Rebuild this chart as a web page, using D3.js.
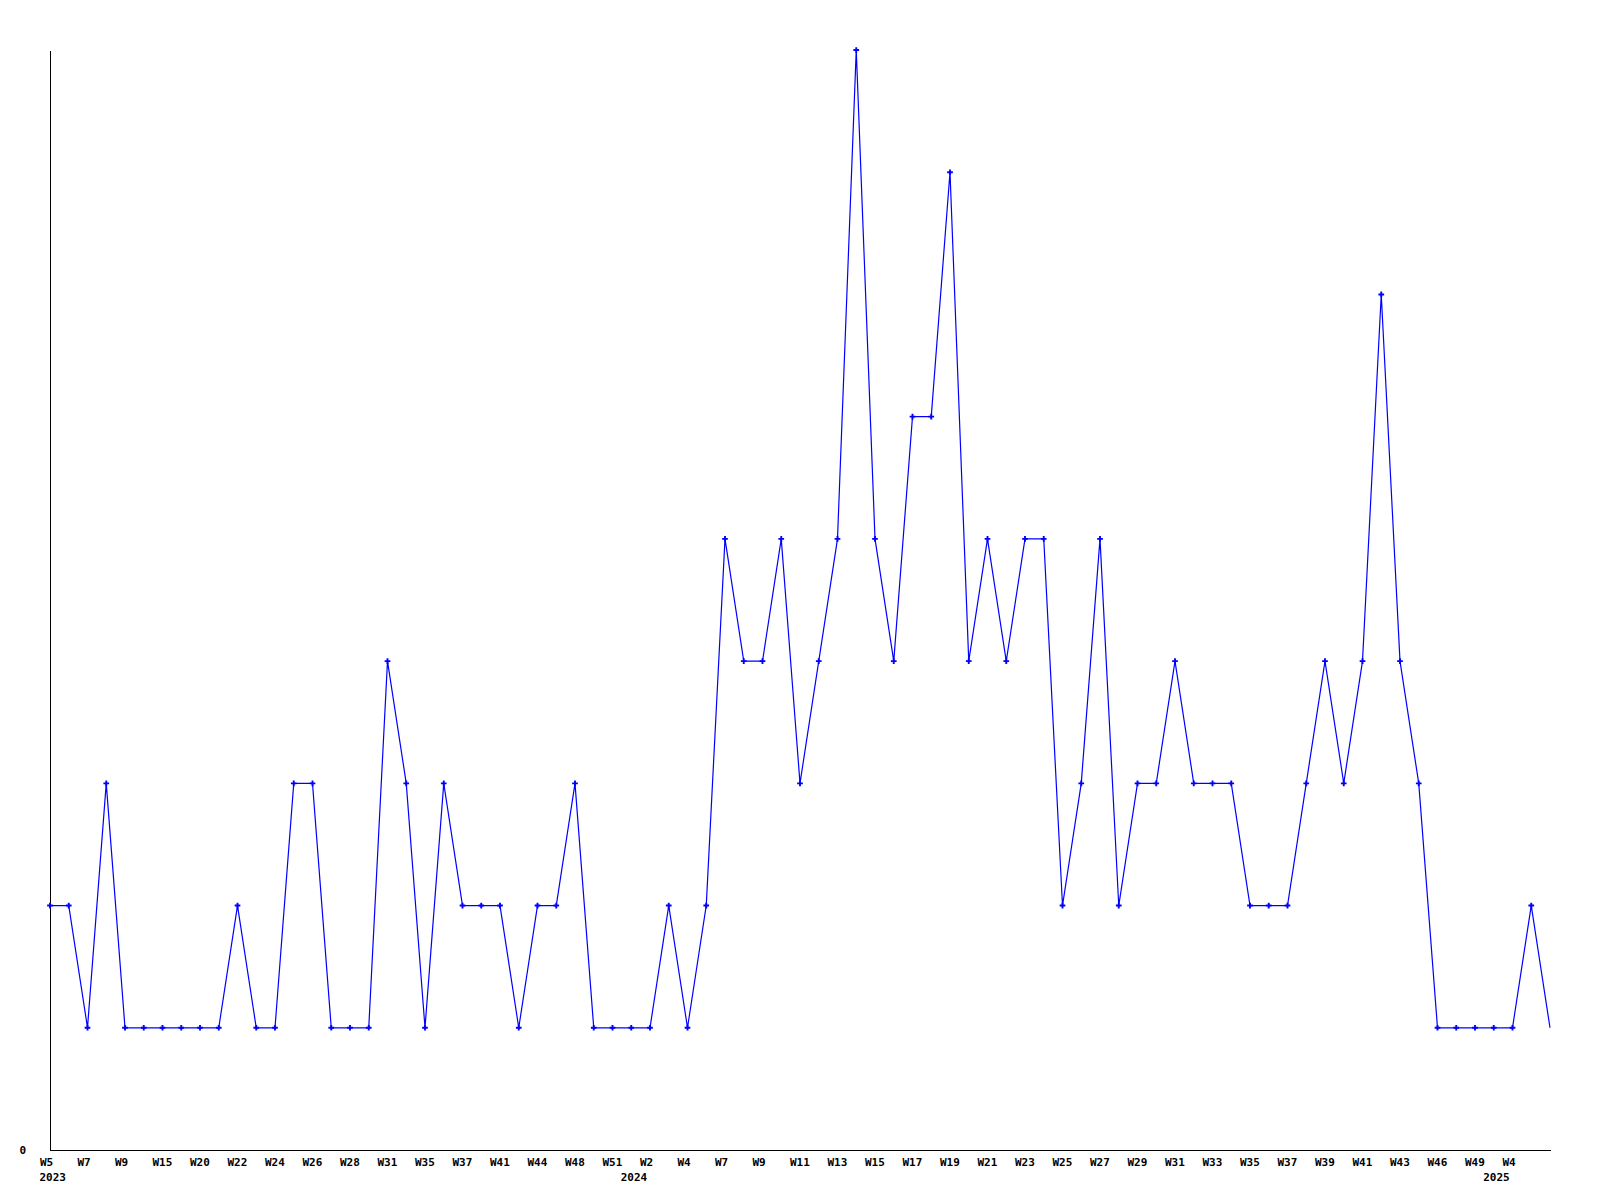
<!DOCTYPE html>
<html>
<head>
<meta charset="utf-8">
<script src="https://cdn.jsdelivr.net/npm/d3@7"></script>
<style>
  html, body { margin: 0; padding: 0; background: #fff; }
  svg { display: block; }
  text { font-family: "DejaVu Sans Mono", "Liberation Mono", monospace; font-weight: bold; font-size: 11px; fill: #000; }
</style>
</head>
<body>
<script>
// Weekly values, one per point (81 points)
const values = [
  2, 2, 1, 3, 1, 1, 1, 1, 1, 1,
  2, 1, 1, 3, 3, 1, 1, 1, 4, 3,
  1, 3, 2, 2, 2, 1, 2, 2, 3, 1,
  1, 1, 1, 2, 1, 2, 5, 4, 4, 5,
  3, 4, 5, 9, 5, 4, 6, 6, 8, 4,
  5, 4, 5, 5, 2, 3, 5, 2, 3, 3,
  4, 3, 3, 3, 2, 2, 2, 3, 4, 3,
  4, 7, 4, 3, 1, 1, 1, 1, 1, 2,
  1
];

// Tick labels shown on every other point (index 0, 2, 4, ...)
const tickLabels = [
  "W5", "W7", "W9", "W15", "W20", "W22", "W24", "W26", "W28", "W31",
  "W35", "W37", "W41", "W44", "W48", "W51",
  "W2", "W4", "W7", "W9", "W11", "W13", "W15", "W17", "W19", "W21",
  "W23", "W25", "W27", "W29", "W31", "W33", "W35", "W37", "W39", "W41",
  "W43", "W46", "W49",
  "W4"
];

// Year labels and the point index where each year starts
const yearLabels = ["2023", "2024", "2025"];
const yearStarts = [0, 31, 77];

const yTickValues = [0];

const W = 1600, H = 1200;
const svg = d3.select("body").append("svg").attr("width", W).attr("height", H);

const x = d3.scaleLinear().domain([0, values.length - 1]).range([50, 1550]);
const y = d3.scaleLinear().domain([0, 9]).range([1150, 50]);

// X axis
const tickIdx = tickLabels.map((d, i) => i * 2);
const xAxis = d3.axisBottom(x)
  .tickValues(tickIdx)
  .tickFormat((d, i) => tickLabels[i])
  .tickSize(0)
  .tickSizeOuter(0);
const gx = svg.append("g").attr("transform", `translate(0,${y(0)})`).call(xAxis);
gx.select(".domain").attr("stroke", "#000").attr("stroke-width", 1).attr("shape-rendering", "crispEdges");
gx.selectAll(".tick text")
  .attr("text-anchor", "start")
  .attr("x", -10.5)
  .attr("y", 16)
  .attr("dy", null)
  .style("font-family", '"DejaVu Sans Mono", monospace')
  .style("font-weight", "bold")
  .style("font-size", "11px")
  .attr("fill", "#000");

// Year labels
svg.append("g").selectAll("text")
  .data(yearLabels)
  .join("text")
  .attr("x", (d, i) => x(yearStarts[i]) - 10.5)
  .attr("y", y(0) + 31)
  .attr("text-anchor", "start")
  .text(d => d);

// Y axis
const yAxis = d3.axisLeft(y)
  .tickValues(yTickValues)
  .tickFormat(d3.format("d"))
  .tickSize(0)
  .tickSizeOuter(0);
const gy = svg.append("g").attr("transform", `translate(${x(0)},0)`).call(yAxis);
gy.select(".domain").attr("stroke", "#000").attr("stroke-width", 1).attr("shape-rendering", "crispEdges");
gy.selectAll(".tick text")
  .attr("text-anchor", "end")
  .attr("x", -24)
  .attr("y", 3)
  .attr("dy", null)
  .style("font-family", '"DejaVu Sans Mono", monospace')
  .style("font-weight", "bold")
  .style("font-size", "11px")
  .attr("fill", "#000");

// Line
const line = d3.line()
  .x((d, i) => x(i))
  .y(d => y(d));
svg.append("path")
  .datum(values)
  .attr("fill", "none")
  .attr("stroke", "#0000ff")
  .attr("stroke-width", 1.2)
  .attr("d", line);

// Markers (last point is drawn without a marker, as in the reference)
const marker = d3.symbol().type(d3.symbolCross).size(18);
svg.append("g").selectAll("path")
  .data(values.slice(0, values.length - 1))
  .join("path")
  .attr("transform", (d, i) => `translate(${x(i)},${y(d)})`)
  .attr("d", marker)
  .attr("fill", "#0000ff");
</script>
</body>
</html>
